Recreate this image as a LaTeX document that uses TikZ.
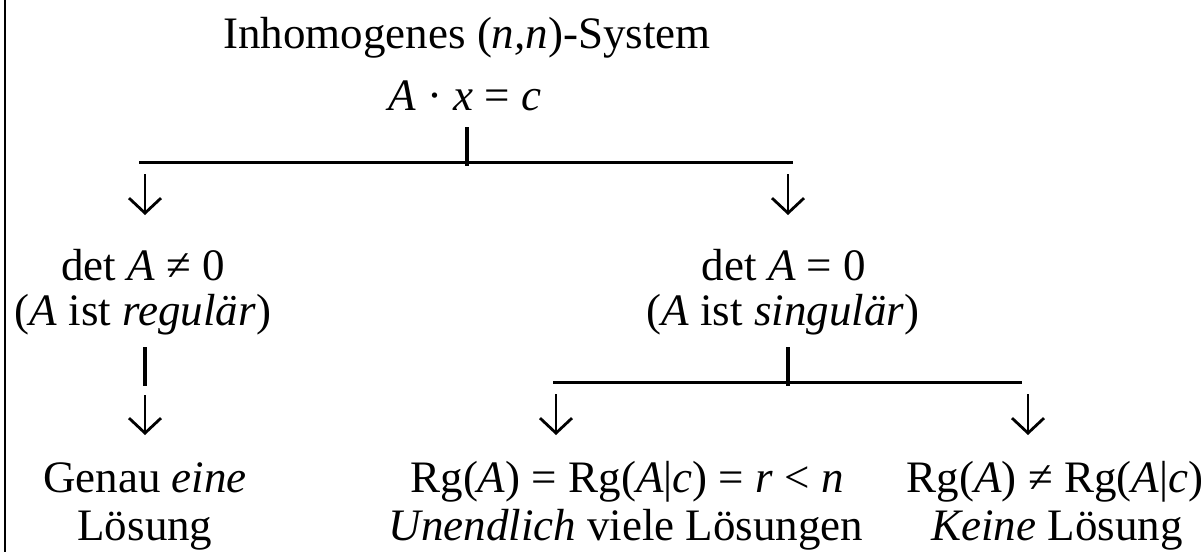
\documentclass[tikz,border=0pt]{standalone}
\usepackage{fontspec}
\setmainfont{Liberation Serif}
\usetikzlibrary{arrows.meta}
\begin{document}
\begin{tikzpicture}[x=1pt,y=-1pt,
  lbl/.style={anchor=base, inner sep=0pt, font=\fontsize{45}{54}\selectfont},
  conn/.style={line width=3pt},
  arr/.style={line width=2.8pt, -{Straight Barb[length=15pt,width=32pt]}},
  tickline/.style={line width=3.4pt}]
\useasboundingbox (0,0) rectangle (1203,552);
\draw[line width=2.4pt] (5,0) -- (5,552);
% texts
\node[lbl] (title) at (467,48) {Inhomogenes (\textit{n,n})-System};
\node[lbl] (eq) at (465,110) {\textit{A} · \textit{x} = \textit{c}};
\node[lbl] (detn) at (143,280) {det \textit{A} ≠ 0};
\node[lbl] (reg) at (143,325) {(\textit{A} ist \textit{regulär})};
\node[lbl] (dete) at (784,280) {det \textit{A} = 0};
\node[lbl] (sing) at (783,325) {(\textit{A} ist \textit{singulär})};
\node[lbl] (gen) at (145,492) {Genau \textit{eine}};
\node[lbl] (los1) at (145,540) {Lösung};
\node[lbl] (rga) at (627,492) {Rg(\textit{A}) = Rg(\textit{A}|\textit{c}) = \textit{r} < \textit{n}};
\node[lbl] (unend) at (626,540) {\textit{Unendlich} viele Lösungen};
\node[lbl] (rgb) at (1055,492) {Rg(\textit{A}) ≠ Rg(\textit{A}|\textit{c})};
\node[lbl] (kein) at (1057,540) {\textit{Keine} Lösung};
% branch 1
\coordinate (t1top) at (467,127);
\coordinate (t1bot) at (467,166);
\coordinate (h1l) at (139,162);
\coordinate (h1r) at (793,162);
\coordinate (a1s) at (145,174);
\coordinate (a1e) at (145,215);
\coordinate (a2s) at (788,174);
\coordinate (a2e) at (788,215);
\draw[tickline] (t1top) -- (t1bot);
\draw[conn] (h1l) -- (h1r);
\draw[arr] (a1s) -- (a1e);
\draw[arr] (a2s) -- (a2e);
% left column
\coordinate (b1top) at (145,347);
\coordinate (b1bot) at (145,386);
\coordinate (a3s) at (145,395);
\coordinate (a3e) at (145,435);
\draw[tickline] (b1top) -- (b1bot);
\draw[arr] (a3s) -- (a3e);
% branch 2
\coordinate (t2top) at (788,347);
\coordinate (t2bot) at (788,386);
\coordinate (h2l) at (553,382);
\coordinate (h2r) at (1022,382);
\coordinate (a4s) at (556,394);
\coordinate (a4e) at (556,435);
\coordinate (a5s) at (1028,394);
\coordinate (a5e) at (1028,435);
\draw[tickline] (t2top) -- (t2bot);
\draw[conn] (h2l) -- (h2r);
\draw[arr] (a4s) -- (a4e);
\draw[arr] (a5s) -- (a5e);
\end{tikzpicture}
\end{document}
